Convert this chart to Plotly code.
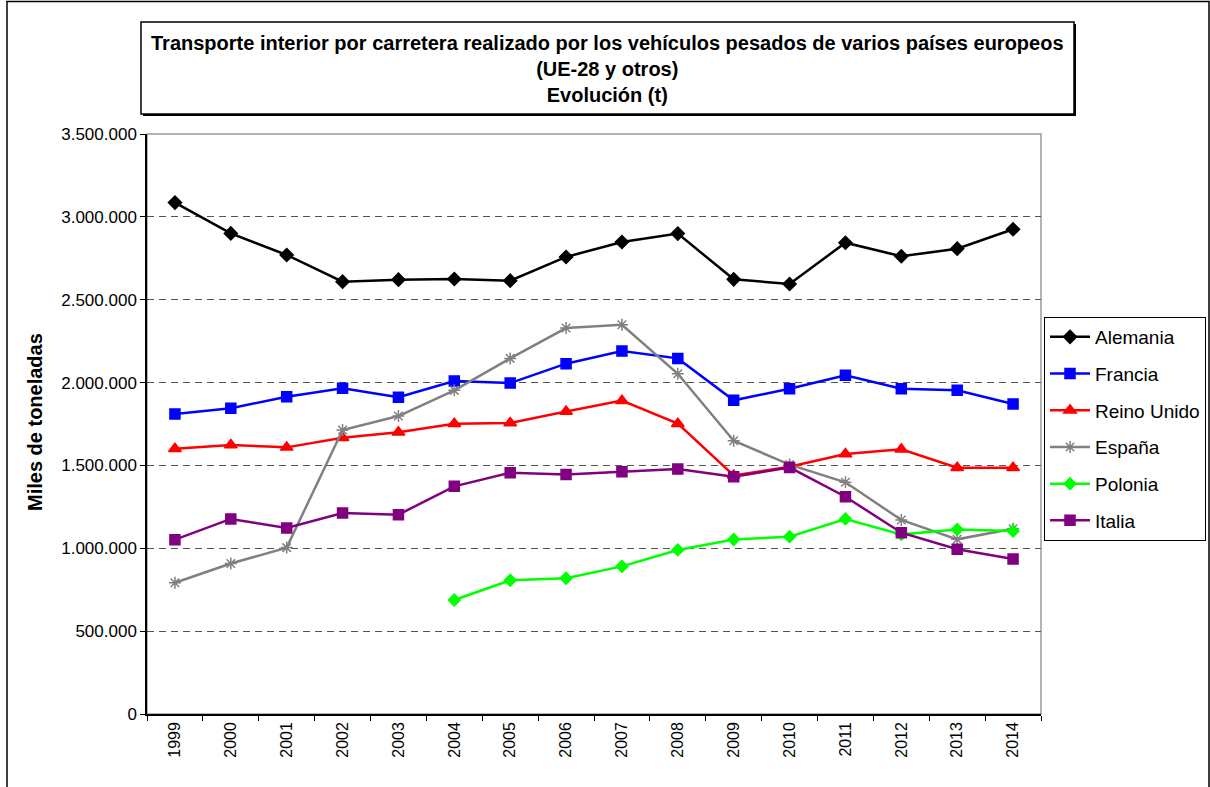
import plotly.graph_objects as go

years = [str(y) for y in range(1999, 2015)]

alemania = [3086000, 2900000, 2770000, 2609000, 2621000, 2625000, 2615000, 2758000,
            2848000, 2899000, 2623000, 2595000, 2844000, 2762000, 2808000, 2925000]
francia = [1810000, 1845000, 1915000, 1965000, 1911000, 2009000, 1997000, 2114000,
           2190000, 2146000, 1893000, 1963000, 2044000, 1963000, 1953000, 1871000]
reino_unido = [1601000, 1623000, 1609000, 1667000, 1700000, 1752000, 1756000, 1826000,
               1891000, 1752000, 1440000, 1492000, 1569000, 1597000, 1486000, 1486000]
espana = [792000, 908000, 1004000, 1714000, 1798000, 1953000, 2146000, 2329000,
          2349000, 2053000, 1649000, 1505000, 1398000, 1171000, 1054000, 1118000]
polonia = [None, None, None, None, None, 688000, 807000, 819000,
           891000, 990000, 1053000, 1070000, 1177000, 1084000, 1114000, 1104000]
italia = [1052000, 1177000, 1122000, 1213000, 1203000, 1374000, 1456000, 1446000,
          1462000, 1478000, 1432000, 1488000, 1311000, 1094000, 994000, 935000]

series = [
    ("Alemania", alemania, "#000000", "diamond", 10),
    ("Francia", francia, "#0000FF", "square", 10),
    ("Reino Unido", reino_unido, "#FF0000", "triangle-up", 11),
    ("España", espana, "#808080", "asterisk-open", 10),
    ("Polonia", polonia, "#00FF00", "diamond", 9),
    ("Italia", italia, "#800080", "square", 10),
]

FONT = "Arial, Liberation Sans, sans-serif"

# body margin/scrollbars are removed in post_script, so screen px == figure px.
# figure is a bit wider than the window so the legend never pushes the margin.
W, H = 1240, 787
L, R, T, B = 147, 1041, 134, 714


def px(x):
    return (x - L) / (R - L)


def py(y):
    return (B - y) / (B - T)


fig = go.Figure()
for name, vals, color, sym, size in series:
    fig.add_trace(go.Scatter(
        x=years, y=vals, name=name, mode="lines+markers", legendgroup=name,
        line=dict(color=color, width=2.5),
        marker=dict(symbol=sym, size=size, color=color,
                    line=dict(color=color, width=1.5)),
    ))

shapes = [
    # outer frame
    dict(type="rect", xref="paper", yref="paper", x0=px(7), x1=px(1209),
         y0=py(820), y1=py(1.5), line=dict(color="black", width=1.5),
         layer="below"),
    # plot area border (gray)
    dict(type="rect", xref="paper", yref="paper", x0=0, x1=1, y0=0, y1=1,
         line=dict(color="#9a9a9a", width=1.5), layer="below"),
    # title box shadow + box
    dict(type="rect", xref="paper", yref="paper", x0=px(143), x1=px(1076),
         y0=py(116), y1=py(24), fillcolor="black", line=dict(width=0)),
    dict(type="rect", xref="paper", yref="paper", x0=px(141), x1=px(1074),
         y0=py(114), y1=py(22), fillcolor="white",
         line=dict(color="black", width=1.5)),
]

annotations = [
    dict(text="<b>Transporte interior por carretera realizado por los vehículos "
              "pesados de varios países europeos<br>(UE-28 y otros)<br>Evolución (t)</b>",
         xref="paper", yref="paper", x=px(607.5), y=py(69), xanchor="center",
         yanchor="middle", showarrow=False, align="center",
         font=dict(family=FONT, size=20, color="black")),
    dict(text="<b>Miles de toneladas</b>", xref="paper", yref="paper",
         x=px(35), y=py(422), textangle=-90, showarrow=False,
         xanchor="center", yanchor="middle",
         font=dict(family=FONT, size=20, color="black")),
]

fig.update_layout(
    width=W, height=H, autosize=False,
    paper_bgcolor="white", plot_bgcolor="white",
    margin=dict(l=L, r=W - R, t=T, b=H - B, pad=0),
    font=dict(family=FONT, size=14, color="black"),
    separators=",.",
    showlegend=True,
    legend=dict(x=px(1044), y=py(317), xanchor="left", yanchor="top",
                bordercolor="black", borderwidth=1, bgcolor="white",
                font=dict(family=FONT, size=19, color="black"),
                traceorder="grouped", tracegroupgap=9, itemwidth=40),
    xaxis=dict(type="category", range=[-0.5, len(years) - 0.5],
               tickson="boundaries", ticks="outside",
               ticklen=5, tickcolor="black", tickangle=-90,
               showline=True, linecolor="black", linewidth=1.5,
               showgrid=False, zeroline=False,
               tickfont=dict(family=FONT, size=16, color="black")),
    yaxis=dict(range=[0, 3500000], dtick=500000, tickformat=",d",
               ticks="outside", ticklen=5, tickcolor="black",
               showline=True, linecolor="black", linewidth=1.5,
               showgrid=True, gridcolor="#555555", gridwidth=1,
               griddash="7px,5px", zeroline=False,
               tickfont=dict(family=FONT, size=17, color="black")),
    shapes=shapes,
    annotations=annotations,
)

fig.write_html(
    "out.html",
    config={"displayModeBar": False},
    post_script="document.body.style.margin = '0';"
                "document.body.style.overflow = 'hidden';"
                "document.documentElement.style.overflow = 'hidden';",
)
